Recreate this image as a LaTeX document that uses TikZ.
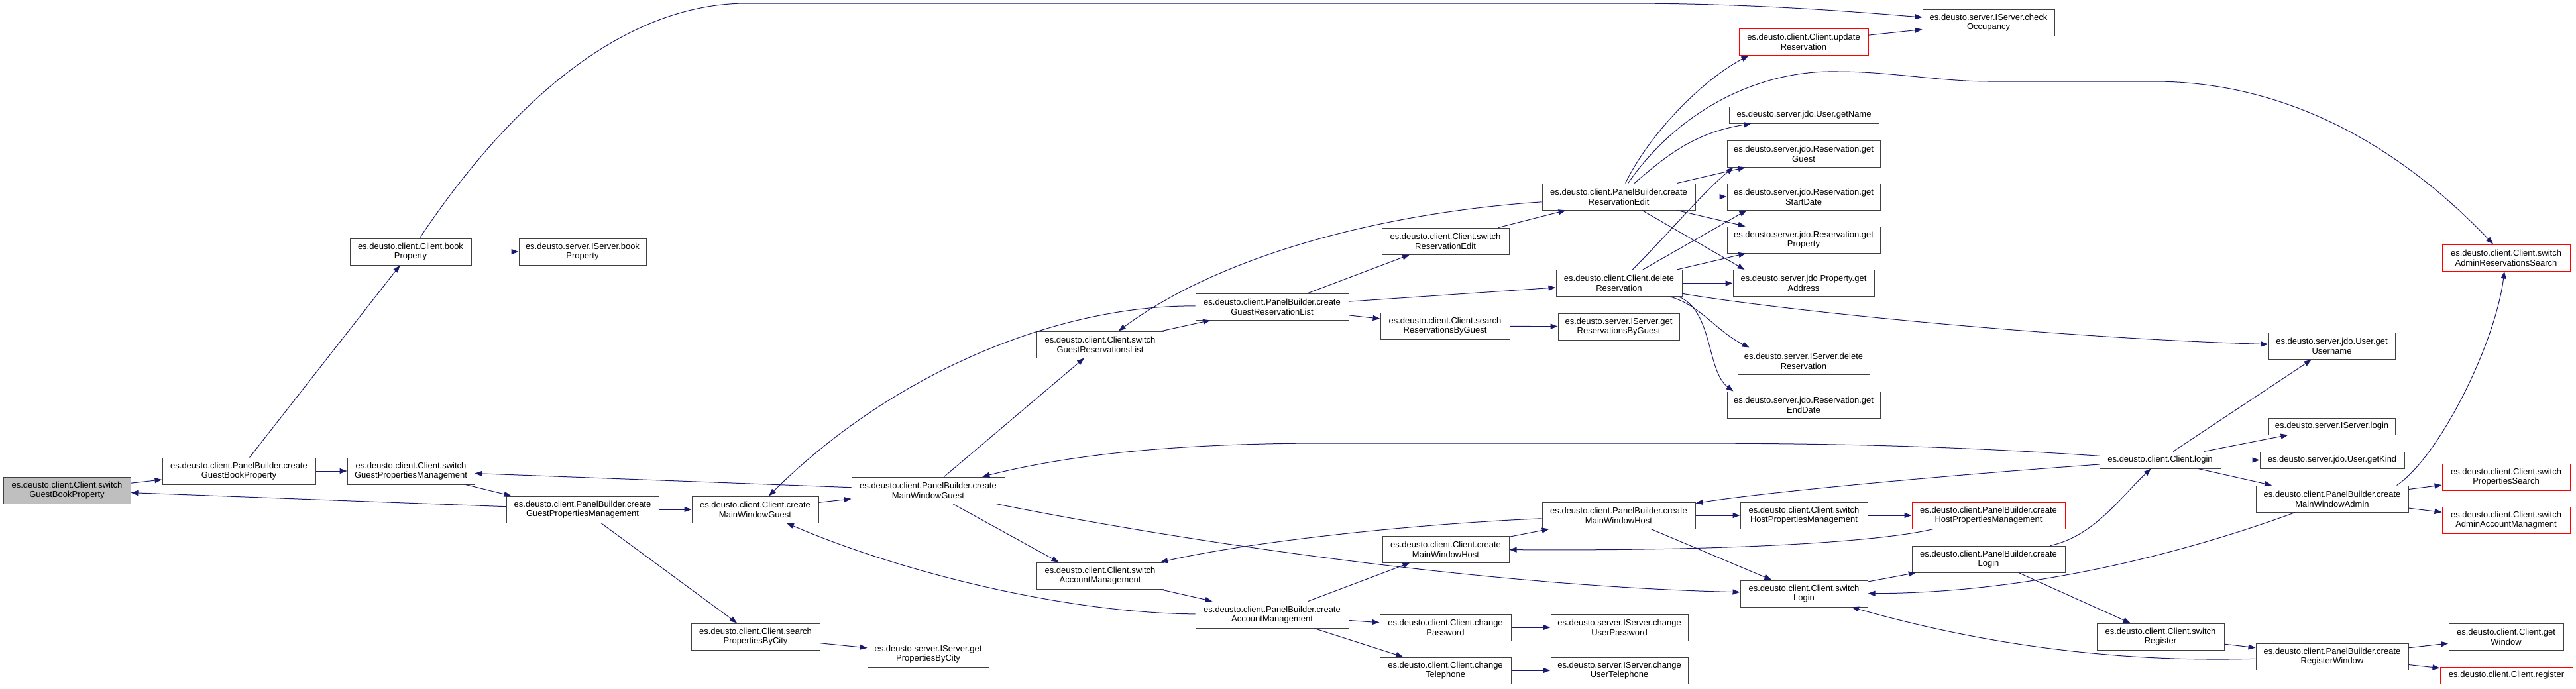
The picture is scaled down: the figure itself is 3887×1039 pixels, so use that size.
\documentclass[tikz,border=0pt]{standalone}
\usepackage{fontspec}
\setmainfont{Liberation Sans}
\usetikzlibrary{arrows.meta}
\definecolor{azulLlamada}{HTML}{191970}
\begin{document}
\begin{tikzpicture}[x=1pt, y=-1pt,
      func/.style={draw=black!75, line width=1pt, fill=white, align=center, inner xsep=2pt, inner ysep=0pt, minimum height=40pt, font=\fontsize{13}{14.7}\selectfont},
      funcRoja/.style={func, draw=red},
      funcActual/.style={func, fill=black!25},
      corta/.style={minimum height=25pt},
      llamada/.style={draw=azulLlamada, line width=1pt, -{Triangle[length=11pt,width=8pt]}}
    ]
    \useasboundingbox (0,0) rectangle (3887,1039);

    % --- Nodos (columnas 1 a 5) ---
    \node[funcActual, minimum width=192pt] (sGBP) at (101,740) {es.deusto.client.Client.switch\\GuestBookProperty};
    \node[func, minimum width=231pt] (cGBP) at (360.5,711) {es.deusto.client.PanelBuilder.create\\GuestBookProperty};
    \node[func, minimum width=192pt] (sGPM) at (620,711) {es.deusto.client.Client.switch\\GuestPropertiesManagement};
    \node[func, minimum width=183pt] (bookP) at (619.5,380) {es.deusto.client.Client.book\\Property};
    \node[func, minimum width=192pt] (srvBook) at (879,380) {es.deusto.server.IServer.book\\Property};
    \node[func, minimum width=230pt] (cGPM) at (879,769) {es.deusto.client.PanelBuilder.create\\GuestPropertiesManagement};
    \node[func, minimum width=191pt] (cMWGc) at (1139.5,769) {es.deusto.client.Client.create\\MainWindowGuest};
    \node[func, minimum width=194pt] (searchPBC) at (1140,961) {es.deusto.client.Client.search\\PropertiesByCity};

    % --- Nodos (columnas 6 a 9) ---
    \node[func, minimum width=183pt] (srvPBC) at (1400.5,987) {es.deusto.server.IServer.get\\PropertiesByCity};
    \node[func, minimum width=231pt] (pbMWG) at (1400.5,740) {es.deusto.client.PanelBuilder.create\\MainWindowGuest};
    \node[func, minimum width=192pt] (sGRL) at (1660,520) {es.deusto.client.Client.switch\\GuestReservationsList};
    \node[func, minimum width=192pt] (sAM) at (1660,869) {es.deusto.client.Client.switch\\AccountManagement};
    \node[func, minimum width=231pt] (pbGRL) at (1919.5,463) {es.deusto.client.PanelBuilder.create\\GuestReservationList};
    \node[func, minimum width=231pt] (pbAM) at (1919.5,928) {es.deusto.client.PanelBuilder.create\\AccountManagement};
    \node[func, minimum width=192pt] (sRE) at (2181,364) {es.deusto.client.Client.switch\\ReservationEdit};
    \node[func, minimum width=195pt] (searchRBG) at (2180.5,492) {es.deusto.client.Client.search\\ReservationsByGuest};
    \node[func, minimum width=191pt] (cMWH) at (2181.5,829) {es.deusto.client.Client.create\\MainWindowHost};
    \node[func, minimum width=198pt] (chPwd) at (2181,947) {es.deusto.client.Client.change\\Password};
    \node[func, minimum width=198pt] (chTel) at (2181,1012) {es.deusto.client.Client.change\\Telephone};

    % --- Nodos (columnas 10 a 12) ---
    \node[func, minimum width=231pt] (pbRE) at (2442.5,297) {es.deusto.client.PanelBuilder.create\\ReservationEdit};
    \node[func, minimum width=190pt] (delRes) at (2443,427.5) {es.deusto.client.Client.delete\\Reservation};
    \node[func, minimum width=183pt] (srvRBG) at (2442.5,493) {es.deusto.server.IServer.get\\ReservationsByGuest};
    \node[func, minimum width=231pt] (pbMWH) at (2442.5,778) {es.deusto.client.PanelBuilder.create\\MainWindowHost};
    \node[func, minimum width=207pt] (srvPwd) at (2443.5,947) {es.deusto.server.IServer.change\\UserPassword};
    \node[func, minimum width=207pt] (srvTel) at (2443.5,1012) {es.deusto.server.IServer.change\\UserTelephone};
    \node[funcRoja, minimum width=195pt] (updRes) at (2721.5,63.5) {es.deusto.client.Client.update\\Reservation};
    \node[func, corta, minimum width=226pt] (getName) at (2722,173.5) {es.deusto.server.jdo.User.getName};
    \node[func, minimum width=231pt] (getGuest) at (2721.5,232) {es.deusto.server.jdo.Reservation.get\\Guest};
    \node[func, minimum width=231pt] (getStart) at (2721.5,297) {es.deusto.server.jdo.Reservation.get\\StartDate};
    \node[func, minimum width=231pt] (getProp) at (2721.5,362) {es.deusto.server.jdo.Reservation.get\\Property};
    \node[func, minimum width=213pt] (getAddr) at (2721.5,427.5) {es.deusto.server.jdo.Property.get\\Address};
    \node[func, minimum width=199pt] (srvDel) at (2721.5,545) {es.deusto.server.IServer.delete\\Reservation};
    \node[func, minimum width=231pt] (getEnd) at (2721.5,611) {es.deusto.server.jdo.Reservation.get\\EndDate};
    \node[func, minimum width=192pt] (sHPM) at (2722,778) {es.deusto.client.Client.switch\\HostPropertiesManagement};
    \node[func, minimum width=192pt] (sLogin) at (2722,896) {es.deusto.client.Client.switch\\Login};
    \node[func, minimum width=199pt] (srvOcc) at (3000.5,34) {es.deusto.server.IServer.check\\Occupancy};
    \node[funcRoja, minimum width=231pt] (pbHPM) at (3000.5,778) {es.deusto.client.PanelBuilder.create\\HostPropertiesManagement};
    \node[func, minimum width=231pt] (pbLogin) at (3000.5,844) {es.deusto.client.PanelBuilder.create\\Login};

    % --- Nodos (columnas 13 a 15) ---
    \node[func, corta, minimum width=183pt] (login) at (3259.5,694.5) {es.deusto.client.Client.login};
    \node[func, minimum width=192pt] (sReg) at (3260,961) {es.deusto.client.Client.switch\\Register};
    \node[func, minimum width=191pt] (getUser) at (3518.5,522.5) {es.deusto.server.jdo.User.get\\Username};
    \node[func, corta, minimum width=191pt] (srvLogin) at (3518.5,643.5) {es.deusto.server.IServer.login};
    \node[func, corta, minimum width=218pt] (getKind) at (3519,694.5) {es.deusto.server.jdo.User.getKind};
    \node[func, minimum width=230pt] (pbMWA) at (3519,753) {es.deusto.client.PanelBuilder.create\\MainWindowAdmin};
    \node[func, minimum width=230pt] (pbReg) at (3519,991) {es.deusto.client.PanelBuilder.create\\RegisterWindow};
    \node[funcRoja, minimum width=193pt] (sARS) at (3781.5,389) {es.deusto.client.Client.switch\\AdminReservationsSearch};
    \node[funcRoja, minimum width=193pt] (sPS) at (3781.5,720) {es.deusto.client.Client.switch\\PropertiesSearch};
    \node[funcRoja, minimum width=193pt] (sAAM) at (3781.5,785) {es.deusto.client.Client.switch\\AdminAccountManagment};
    \node[func, minimum width=173pt] (getWin) at (3781.5,961) {es.deusto.client.Client.get\\Window};
    \node[funcRoja, corta, minimum width=200pt] (register) at (3782,1019.5) {es.deusto.client.Client.register};

    % --- Llamadas (lado huesped) ---
    \draw[llamada] (sGBP) -- (cGBP);
    \draw[llamada] (cGBP) -- (sGPM);
    \draw[llamada] (cGBP) -- (bookP);
    \draw[llamada] (bookP) -- (srvBook);
    \draw[llamada] (bookP) .. controls (780,140) and (950,5) .. (1127,5) -- (2450,5) .. controls (2650,5) and (2800,18) .. (srvOcc);
    \draw[llamada] (sGPM) -- ([xshift=8pt]cGPM.north west);
    \draw[llamada] (cGPM) -- (sGBP);
    \draw[llamada] (cGPM) -- (cMWGc);
    \draw[llamada] (cGPM) -- (searchPBC);
    \draw[llamada] (searchPBC) -- (srvPBC);
    \draw[llamada] (cMWGc) -- (pbMWG);
    \draw[llamada] (pbMWG) -- (sGPM);
    \draw[llamada] (pbMWG) -- (sGRL);
    \draw[llamada] (pbMWG) -- ([xshift=34pt]sAM.north west);
    \draw[llamada] (pbMWG) .. controls (1800,820) and (2250,885) .. (sLogin);
    \draw[llamada] (sGRL) -- (pbGRL);
    \draw[llamada] (pbGRL) .. controls (1600,460) and (1350,560) .. (cMWGc);
    \draw[llamada] (pbGRL) -- (sRE);
    \draw[llamada] (pbGRL) -- (delRes);
    \draw[llamada] (pbGRL) -- (searchRBG);
    \draw[llamada] (searchRBG) -- (srvRBG);
    \draw[llamada] (sRE) -- (pbRE);

    % --- Llamadas (reservas) ---
    \draw[llamada] (pbRE) .. controls (2100,320) and (1850,380) .. (sGRL);
    \draw[llamada] (pbRE) .. controls (2490,200) and (2570,120) .. ([xshift=15pt]updRes.south west);
    \draw[llamada] (pbRE) .. controls (2530,170) and (2650,105) .. (2774,108) .. controls (2850,108) and (2930,123) .. (3000,123) -- (3250,123) .. controls (3450,123) and (3620,220) .. (sARS);
    \draw[llamada] (pbRE) .. controls (2520,230) and (2560,200) .. (getName);
    \draw[llamada] (pbRE) -- (getGuest);
    \draw[llamada] (pbRE) -- (getStart);
    \draw[llamada] (pbRE) -- (getProp);
    \draw[llamada] (pbRE) -- ([xshift=18pt]getAddr.north west);
    \draw[llamada] (delRes) .. controls (2520,350) and (2570,290) .. ([xshift=10pt]getGuest.south west);
    \draw[llamada] (delRes) -- ([xshift=30pt]getStart.south west);
    \draw[llamada] (delRes) -- (getProp);
    \draw[llamada] (delRes) -- (getAddr);
    \draw[llamada] (delRes) .. controls (2700,470) and (3100,510) .. (getUser);
    \draw[llamada] (delRes) .. controls (2565,460) and (2590,500) .. ([xshift=18pt]srvDel.north west);
    \draw[llamada] ([xshift=-5pt]delRes.south east) .. controls (2585,470) and (2575,560) .. ([xshift=10pt]getEnd.north west);
    \draw[llamada] (updRes) -- (srvOcc);

    % --- Llamadas (cuenta y anfitrion) ---
    \draw[llamada] (sAM) -- (pbAM);
    \draw[llamada] (pbAM) .. controls (1600,925) and (1350,860) .. (cMWGc);
    \draw[llamada] (pbAM) -- (cMWH);
    \draw[llamada] (pbAM) -- (chPwd);
    \draw[llamada] (pbAM) -- (chTel);
    \draw[llamada] (chPwd) -- (srvPwd);
    \draw[llamada] (chTel) -- (srvTel);
    \draw[llamada] (cMWH) -- (pbMWH);
    \draw[llamada] (pbMWH) .. controls (2150,790) and (1900,815) .. (sAM);
    \draw[llamada] (pbMWH) -- (sHPM);
    \draw[llamada] (pbMWH) -- (sLogin);
    \draw[llamada] (sHPM) -- (pbHPM);
    \draw[llamada] (pbHPM) .. controls (2850,815) and (2650,832) .. (cMWH);

    % --- Llamadas (login y registro) ---
    \draw[llamada] (sLogin) -- (pbLogin);
    \draw[llamada] (pbLogin) .. controls (3160,809) and (3200,750) .. (login);
    \draw[llamada] (pbLogin) -- (sReg);
    \draw[llamada] (login) .. controls (2900,670) and (2700,669) .. (2500,669) -- (2000,669) .. controls (1750,669) and (1600,690) .. (pbMWG);
    \draw[llamada] (login) .. controls (2900,720) and (2650,745) .. (pbMWH);
    \draw[llamada] (login) -- (getUser);
    \draw[llamada] (login) -- (srvLogin);
    \draw[llamada] (login) -- (getKind);
    \draw[llamada] (login) -- (pbMWA);
    \draw[llamada] ([xshift=-18pt]pbMWA.north east) .. controls (3680,690) and (3765,520) .. (sARS);
    \draw[llamada] (pbMWA) -- (sPS);
    \draw[llamada] (pbMWA) -- (sAAM);
    \draw[llamada] (pbMWA) .. controls (3350,815) and (3100,895) .. (sLogin);
    \draw[llamada] (sReg) -- (pbReg);
    \draw[llamada] (pbReg) -- (getWin);
    \draw[llamada] (pbReg) -- (register);
    \draw[llamada] (pbReg) .. controls (3200,1000) and (3000,975) .. (sLogin);
  \end{tikzpicture}
\end{document}
